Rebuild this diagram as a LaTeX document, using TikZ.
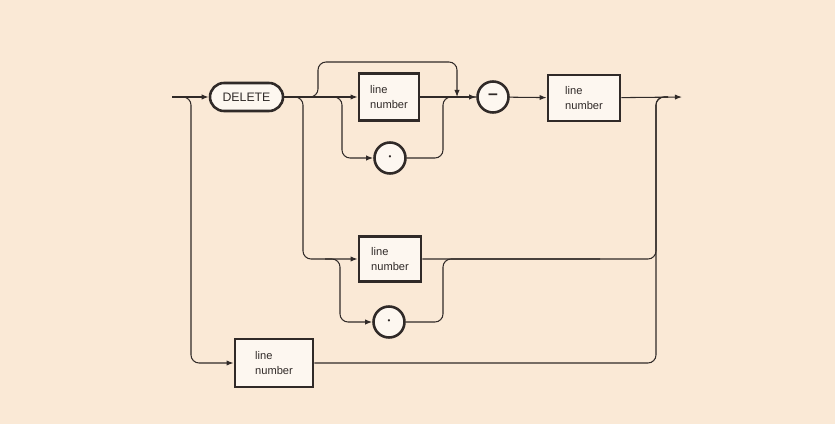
\documentclass[tikz,border=0pt]{standalone}
\usepackage{fontspec}
\setmainfont{Liberation Sans}
\usetikzlibrary{arrows.meta}
\definecolor{paper}{RGB}{250,233,214}
\definecolor{boxfill}{RGB}{253,247,240}
\definecolor{ink}{RGB}{48,42,40}
\tikzset{
	>={Latex[length=6pt,width=4.5pt]},
	kw/.style={draw=ink,line width=2.2pt,rounded corners=0.42cm,fill=boxfill,minimum width=2.19cm,minimum height=0.84cm,font=\fontsize{10.5}{12}\selectfont,text=ink},
	ref/.style={draw=ink,line width=2.4pt,fill=boxfill,minimum width=1.8cm,minimum height=1.38cm,align=left,font=\fontsize{9.5}{12.5}\selectfont,text=ink,inner sep=0pt},
	sym/.style={circle,draw=ink,line width=2.2pt,fill=boxfill,minimum size=0.93cm,inner sep=0pt,text=ink},
	link/.style={draw=ink,line width=0.9pt,rounded corners=0.24cm},
}
\begin{document}
\begin{tikzpicture}[x=0.03cm,y=-0.03cm]
	\fill[paper] (0,0) rectangle (835,424);
	% boxes
	\node[kw] (del) at (246.5,97) {DELETE};
	\node[ref,minimum height=1.41cm] (top) at (389,97) {line\\number};
	\node[sym] (dotA) at (390,158) {\fontsize{7}{7}\selectfont\textbullet};
	\node[sym] (minus) at (493,97) {\fontsize{15}{15}\selectfont\bfseries –};
	\node[ref,minimum width=2.16cm] (rbox) at (584,98) {line\\number};
	\node[ref,minimum width=1.86cm,minimum height=1.35cm] (mid) at (390,259) {line\\number};
	\node[sym] (dotB) at (389,322) {\fontsize{7}{7}\selectfont\textbullet};
	\node[ref,minimum width=2.34cm,minimum height=1.44cm] (bot) at (274,363) {line\\number};
	% turning points
	\coordinate (start) at (172,97);
	\coordinate (fin) at (682,97);
	\coordinate (b1) at (191,363);
	\coordinate (b2) at (303,259);
	\coordinate (b3) at (325,259);
	\coordinate (tl) at (318,62);
	\coordinate (j1) at (457,97);
	\coordinate (dA) at (342,158);
	\coordinate (jA) at (443,97);
	\coordinate (dB) at (340,322);
	\coordinate (jB) at (443,259);
	\coordinate (jB2) at (600,259);
	\coordinate (r1) at (656,97);
	\coordinate (r2) at (668,97);
	% connectors
	\draw[link,->] (start) -- (del);
	\draw[link,->] (start) -| (b1) -- (bot);
	\draw[link,->] (del) -- (top);
	\draw[link,->] (del) -| (b2) -- (mid);
	\draw[link,->] (del) -| (tl) -| (j1);
	\draw[link,->] (del) -| (dA) -- (dotA);
	\draw[link] (dotA) -| (jA) -- (minus);
	\draw[link,->] (top) -- (minus);
	\draw[link,->] (minus) -- (rbox);
	\draw[link,->] (rbox) -- (fin);
	\draw[link,->] (b3) -| (dB) -- (dotB);
	\draw[link] (dotB) -| (jB) -- (jB2);
	\draw[link] (mid) -| (r1) -- (r2);
	\draw[link] (bot) -| (r1) -- (r2);
\end{tikzpicture}
\end{document}
